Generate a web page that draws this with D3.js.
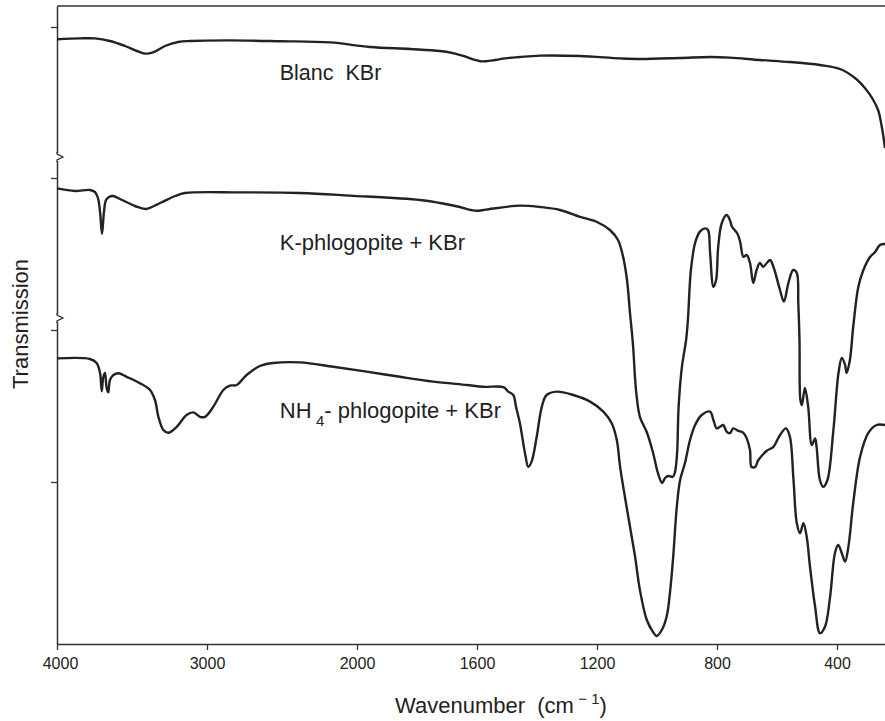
<!DOCTYPE html>
<html>
<head>
<meta charset="utf-8">
<script src="https://cdn.jsdelivr.net/npm/d3@7"></script>
<style>
  body { margin: 0; background: #fff; }
  svg { display: block; font-family: "Liberation Sans", Arial, sans-serif; }
</style>
</head>
<body>
<svg id="chart" width="885" height="721"></svg>
<script>
// wavenumber ticks (axis has a scale change at 2000 cm-1)
const xTicks = [4000, 3000, 2000, 1600, 1200, 800, 400];
// unlabelled transmission ticks and axis break marks (arbitrary units, offset spectra)
const yTicks = [40.5, 78.5, 116.5, 154.25];
const yBreaks = [81.5, 121.75];

// [wavenumber, transmission]
const blanc = [
  [4000, 151.2], [3847, 151.4], [3747, 151.4], [3647, 150.75], [3547, 149.5],
  [3467, 148.25], [3413, 147.6], [3360, 147.9], [3280, 149.5], [3193, 150.5],
  [3113, 150.75], [2847, 150.9], [2513, 150.7], [2180, 150.4], [1957, 149.25],
  [1823, 148.75], [1723, 148.25], [1673, 147.6], [1640, 146.9], [1610, 146.1],
  [1590, 145.7], [1570, 145.7], [1540, 146.0], [1507, 146.4], [1457, 146.75],
  [1390, 147.1], [1257, 147], [1123, 146.4], [1057, 146.25], [923, 146.5],
  [823, 146.75], [757, 146.6], [657, 146], [557, 145.5], [457, 144.75],
  [390, 143.75], [340, 141.5], [307, 139], [283, 136.5], [263, 133.5],
  [250, 129], [240, 124]
];

const kPhlog = [
  [4000, 113.9], [3880, 113.25], [3780, 113.5], [3747, 113], [3727, 111.5],
  [3713, 108], [3700, 102.5], [3687, 108], [3673, 111], [3653, 111.75],
  [3627, 112], [3580, 111.25], [3480, 109.5], [3407, 108.75], [3313, 110.25],
  [3213, 112], [3147, 112.75], [2780, 112.9], [2380, 112.75], [2047, 112.1],
  [1790, 111], [1723, 110.25], [1657, 109.25], [1620, 108.5], [1600, 108.3],
  [1570, 108.6], [1457, 109.6], [1390, 109.25], [1323, 108.5], [1257, 106.8],
  [1200, 105.5], [1157, 103.5], [1130, 101], [1113, 96.8], [1100, 91],
  [1090, 82.75], [1080, 74.75], [1070, 63.5], [1057, 56.8], [1033, 52.75],
  [1013, 47.75], [997, 42.75], [983, 40.25], [973, 41.5], [963, 42],
  [947, 41.8], [940, 43], [933, 47.75], [928, 59.25], [917, 69.25],
  [903, 76], [897, 81], [887, 93.5], [873, 100.25], [857, 103.1],
  [840, 103.9], [830, 103.5], [823, 97.75], [812, 89.3], [803, 91],
  [796, 99.3], [784, 105.25], [768, 107.25], [757, 106], [750, 104.3],
  [733, 102.75], [723, 100.6], [712, 96.8], [701, 97.25], [690, 95.25],
  [679, 90.25], [668, 93.5], [657, 95.25], [646, 94.3], [634, 95.25],
  [623, 96], [612, 94.3], [590, 88.5], [577, 85.6], [562, 90.25],
  [546, 93.5], [534, 92.75], [529, 85.25], [525, 76], [522, 61],
  [517, 59.75], [507, 64], [496, 59.3], [484, 49.75], [473, 51.4],
  [468, 49.3], [457, 41], [446, 39.3], [432, 41], [412, 53.5],
  [395, 67.75], [384, 71.5], [373, 69.75], [368, 67.75], [357, 71],
  [346, 79.25], [329, 89.25], [312, 93.5], [290, 96.75], [273, 98],
  [257, 99.75], [240, 100]
];

const nh4Phlog = [
  [4000, 71.4], [3780, 71.25], [3736, 70.25], [3713, 67.75], [3702, 63.2],
  [3691, 66.75], [3680, 67.75], [3669, 64.0], [3658, 62.9], [3647, 66],
  [3624, 67.25], [3591, 67.7], [3536, 66.8], [3447, 65.2], [3380, 63.5],
  [3347, 61], [3324, 56.8], [3291, 53.5], [3258, 52.8], [3202, 54.3],
  [3136, 57.25], [3091, 57.9], [3047, 56.8], [3013, 56.8], [2958, 59.3],
  [2891, 63.5], [2847, 64.6], [2802, 64.75], [2736, 67.25], [2647, 69.5],
  [2558, 70.25], [2380, 70.4], [2158, 69.3], [1968, 68.1], [1857, 66.8],
  [1746, 65.6], [1634, 64.75], [1579, 64.3], [1512, 64.2], [1496, 63.1],
  [1479, 62.25], [1470, 59.3], [1457, 55.2], [1440, 47.7], [1429, 44.3],
  [1418, 45.6], [1401, 51.8], [1384, 59.3], [1368, 62.25], [1334, 63.1],
  [1279, 62.25], [1223, 60.6], [1179, 58.1], [1151, 55.2], [1134, 51],
  [1123, 44.3], [1107, 36.8], [1090, 29.3], [1073, 21.8], [1057, 13.5],
  [1034, 6], [1014, 3.1], [1001, 2], [984, 3.5], [968, 6.8],
  [957, 12.7], [946, 21.8], [934, 34.3], [923, 41], [907, 45.2],
  [890, 51], [873, 54.75], [851, 57.25], [823, 58.1], [812, 56],
  [801, 53.9], [790, 54.3], [779, 54.75], [768, 53.1], [757, 52.7],
  [746, 53.9], [729, 53.3], [712, 52.8], [701, 51.4], [690, 48.5],
  [685, 44.3], [673, 44.25], [662, 46], [634, 48.3], [612, 49.3],
  [590, 52.25], [570, 53.9], [557, 51.8], [545, 41], [534, 30.2],
  [523, 27.7], [512, 30.2], [501, 26.8], [490, 19.3], [473, 9.3],
  [457, 2.7], [440, 4.3], [423, 11.8], [407, 22.7], [396, 24.75],
  [384, 22.7], [373, 20.6], [362, 24.3], [346, 35.2], [323, 46.8],
  [296, 52.7], [268, 54.75], [240, 54.75]
];

const seriesList = [blanc, kPhlog, nh4Phlog];

const svg = d3.select('#chart');
const ink = '#222';
const axisInk = '#333';
const fontFamily = '"Liberation Sans", Arial, sans-serif';

const x = d3.scaleLinear().domain([4000, 2000, 240]).range([57, 357, 885]);
const y = d3.scaleLinear().domain([0, 159.5]).range([644, 6]);

// frame: top edge
svg.append('line')
  .attr('x1', x(4000)).attr('x2', x(240))
  .attr('y1', y(159.5)).attr('y2', y(159.5))
  .attr('stroke', axisInk).attr('stroke-width', 1.3);

const xAxis = svg.append('g')
  .attr('transform', `translate(0, ${y(0)})`)
  .call(d3.axisBottom(x).tickValues(xTicks).tickSize(6).tickSizeOuter(0).tickPadding(8).tickFormat(d3.format('d')));

const yAxis = svg.append('g')
  .attr('transform', `translate(${x(4000)}, 0)`)
  .call(d3.axisLeft(y).tickValues(yTicks).tickSize(6).tickSizeOuter(0).tickFormat(''));

[xAxis, yAxis].forEach(a => {
  a.attr('font-family', fontFamily);
  a.select('.domain').attr('stroke', axisInk).attr('stroke-width', 1.5);
  a.selectAll('.tick line').attr('stroke', axisInk).attr('stroke-width', 1.3);
});
xAxis.selectAll('.tick text')
  .attr('fill', ink)
  .style('font-size', '16px');
xAxis.select('.tick text').attr('dx', 3);

// break marks on the transmission axis
yBreaks.forEach(b => {
  const yb = y(b);
  const x0 = x(4000);
  svg.append('rect')
    .attr('x', x0 - 2).attr('y', yb - 4).attr('width', 4).attr('height', 8)
    .attr('fill', '#fff');
  svg.append('path')
    .attr('d', `M${x0},${yb - 5} L${x0},${yb - 3} L${x0 + 6},${yb} L${x0},${yb + 3} L${x0},${yb + 5}`)
    .attr('fill', 'none').attr('stroke', axisInk).attr('stroke-width', 1.3);
});

const line = d3.line()
  .x(d => x(d[0]))
  .y(d => y(d[1]))
  .curve(d3.curveCatmullRom.alpha(0.5));

svg.append('g')
  .selectAll('path')
  .data(seriesList)
  .join('path')
  .attr('d', line)
  .attr('fill', 'none')
  .attr('stroke', ink)
  .attr('stroke-width', 2.4)
  .attr('stroke-linejoin', 'round');

// spectrum labels
const labelX = x(2515);
svg.append('text')
  .attr('x', labelX).attr('y', y(141))
  .attr('fill', ink).style('font-size', '21.5px')
  .text('Blanc\u00a0 KBr');

svg.append('text')
  .attr('x', labelX).attr('y', y(98.5))
  .attr('fill', ink).style('font-size', '22px')
  .text('K-phlogopite + KBr');

const nhLabel = svg.append('text')
  .attr('x', labelX).attr('y', y(56.5))
  .attr('fill', ink).style('font-size', '22px');
nhLabel.append('tspan').text('NH\u2009');
nhLabel.append('tspan').attr('dy', 8).style('font-size', '15px').text('4');
nhLabel.append('tspan').attr('dy', -8).text('- phlogopite + KBr');

// axis titles
const xt = svg.append('text')
  .attr('x', 395).attr('y', 713)
  .attr('fill', ink).style('font-size', '22px');
xt.append('tspan').text('Wavenumber\u00a0 (cm\u2009');
xt.append('tspan').attr('dy', -9).style('font-size', '15px').text('\u2212 1');
xt.append('tspan').attr('dy', 9).text(')');

svg.append('text')
  .attr('transform', 'translate(28, 324) rotate(-90)')
  .attr('text-anchor', 'middle')
  .attr('fill', ink).style('font-size', '22px')
  .text('Transmission');
</script>
</body>
</html>
